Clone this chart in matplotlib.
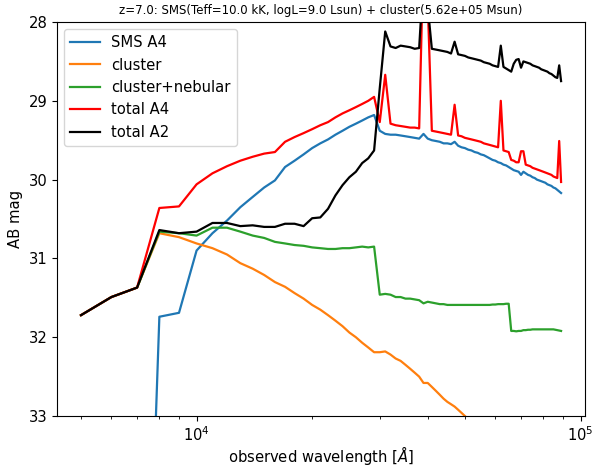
#!/usr/bin/env python3
# SMS + cluster SED at z=7, AB magnitudes against observed wavelength
import matplotlib
matplotlib.use("Agg")
import matplotlib.pyplot as plt

plt.rcParams["font.size"] = 10.6
plt.rcParams["lines.linewidth"] = 1.6

# observed wavelength grid [A]
wave = [5000, 6000, 7000, 8000, 9000, 10000, 11000, 12000, 13000, 14000,
        15000, 16000, 17000, 18000, 19000, 20000, 21000, 22000, 23000, 24000,
        25000, 26000, 27000, 28000, 29000, 30000, 31000, 32000, 33000, 34000,
        35000, 36000, 37000, 38000, 39000, 40000, 41000, 42000, 43000, 44000,
        45000, 46000, 47000, 48000, 49000, 50000, 51000, 52000, 53000, 54000,
        55000, 56000, 57000, 58000, 59000, 60000, 61000, 62000, 63000, 64000,
        65000, 66000, 67000, 68000, 69000, 70000, 71000, 72000, 73000, 74000,
        75000, 76000, 77000, 78000, 79000, 80000, 81000, 82000, 83000, 84000,
        85000, 86000, 87000, 88000, 89000]

sms_a4 = [45.0, 42.0, 39.9, 31.74, 31.69, 30.90, 30.68, 30.52, 30.35, 30.22,
          30.10, 30.01, 29.84, 29.76, 29.68, 29.60, 29.54, 29.49, 29.43, 29.38,
          29.33, 29.29, 29.25, 29.21, 29.18, 29.38, 29.42, 29.43, 29.43, 29.44,
          29.45, 29.46, 29.47, 29.48, 29.42, 29.48, 29.50, 29.51, 29.52, 29.54,
          29.54, 29.55, 29.52, 29.57, 29.59, 29.60, 29.62, 29.63, 29.65, 29.66,
          29.68, 29.69, 29.71, 29.73, 29.75, 29.76, 29.78, 29.79, 29.81, 29.82,
          29.84, 29.86, 29.88, 29.89, 29.90, 29.94, 29.90, 29.92, 29.94, 29.95,
          29.97, 29.98, 30.00, 30.01, 30.02, 30.03, 30.04, 30.06, 30.07, 30.08,
          30.10, 30.11, 30.13, 30.15, 30.17]

# stellar cluster only (falls off the bottom after ~5 micron)
cluster = [31.72, 31.49, 31.37, 30.68, 30.73, 30.81, 30.87, 30.95, 31.06, 31.13,
           31.21, 31.30, 31.36, 31.44, 31.51, 31.59, 31.65, 31.72, 31.79, 31.86,
           31.94, 32.00, 32.07, 32.13, 32.19, 32.19, 32.18, 32.22, 32.27, 32.30,
           32.35, 32.40, 32.45, 32.50, 32.58, 32.58, 32.63, 32.68, 32.73, 32.78,
           32.82, 32.85, 32.88, 32.92, 32.96, 33.00, 33.04, 33.08]

cluster_neb = [31.72, 31.49, 31.37, 30.66, 30.68, 30.71, 30.61, 30.61, 30.66, 30.71,
               30.74, 30.79, 30.81, 30.83, 30.84, 30.86, 30.87, 30.88, 30.88, 30.87,
               30.87, 30.86, 30.85, 30.86, 30.85, 31.46, 31.45, 31.46, 31.49, 31.49,
               31.51, 31.51, 31.52, 31.53, 31.57, 31.55, 31.56, 31.57, 31.58, 31.58,
               31.59, 31.59, 31.59, 31.59, 31.59, 31.59, 31.59, 31.59, 31.59, 31.59,
               31.59, 31.59, 31.59, 31.59, 31.585, 31.585, 31.58, 31.58, 31.58, 31.575,
               31.575, 31.92, 31.92, 31.925, 31.92, 31.92, 31.91, 31.91, 31.905, 31.905,
               31.90, 31.90, 31.90, 31.90, 31.90, 31.90, 31.90, 31.90, 31.90, 31.90,
               31.90, 31.905, 31.91, 31.915, 31.92]

total_a4 = [31.72, 31.49, 31.37, 30.36, 30.34, 30.06, 29.92, 29.83, 29.76, 29.71,
            29.67, 29.65, 29.52, 29.46, 29.41, 29.36, 29.31, 29.27, 29.21, 29.16,
            29.12, 29.08, 29.04, 29.00, 28.95, 29.27, 28.67, 29.29, 29.31, 29.32,
            29.33, 29.34, 29.34, 29.35, 27.10, 27.75, 29.38, 29.39, 29.40, 29.41,
            29.42, 29.43, 29.05, 29.44, 29.45, 29.47, 29.48, 29.49, 29.50, 29.51,
            29.52, 29.54, 29.55, 29.56, 29.57, 29.58, 29.59, 29.00, 29.63, 29.64,
            29.65, 29.75, 29.76, 29.78, 29.78, 29.64, 29.64, 29.81, 29.82, 29.83,
            29.85, 29.86, 29.87, 29.88, 29.89, 29.90, 29.91, 29.92, 29.93, 29.94,
            29.96, 29.97, 29.98, 29.51, 30.03]

total_a2 = [31.72, 31.49, 31.37, 30.64, 30.68, 30.66, 30.55, 30.55, 30.59, 30.58,
            30.60, 30.60, 30.56, 30.56, 30.59, 30.49, 30.48, 30.37, 30.20, 30.07,
            29.97, 29.90, 29.79, 29.73, 29.63, 28.84, 28.12, 28.31, 28.33, 28.30,
            28.31, 28.32, 28.34, 28.33, 27.40, 27.80, 28.34, 28.35, 28.36, 28.37,
            28.38, 28.40, 28.25, 28.41, 28.42, 28.43, 28.45, 28.46, 28.47, 28.48,
            28.49, 28.51, 28.52, 28.53, 28.55, 28.56, 28.57, 28.30, 28.57, 28.59,
            28.61, 28.63, 28.53, 28.48, 28.47, 28.58, 28.50, 28.51, 28.52, 28.53,
            28.55, 28.56, 28.57, 28.58, 28.60, 28.61, 28.62, 28.63, 28.65, 28.66,
            28.68, 28.70, 28.71, 28.55, 28.75]

fig = plt.figure(figsize=(5.92, 4.68), dpi=100)
ax = fig.add_axes([0.0963, 0.111, 0.892, 0.842])

ax.plot(wave, sms_a4, label="SMS A4")
ax.plot(wave[:len(cluster)], cluster, label="cluster")
ax.plot(wave, cluster_neb, label="cluster+nebular")
ax.plot(wave, total_a4, "r", label="total A4")
ax.plot(wave, total_a2, "k", label="total A2")

ax.set_xscale("log")
ax.set_xlim(10**3.6365, 10**5.0119)
ax.set_ylim(33, 28)
ax.set_xlabel(r"observed wavelength [$\AA$]", labelpad=0)
ax.set_ylabel("AB mag")
ax.set_title("z=7.0: SMS(Teff=10.0 kK, logL=9.0 Lsun) + cluster(5.62e+05 Msun)",
             fontsize=8.5)
ax.legend(loc="upper left")

fig.savefig("out.png", dpi=100)
